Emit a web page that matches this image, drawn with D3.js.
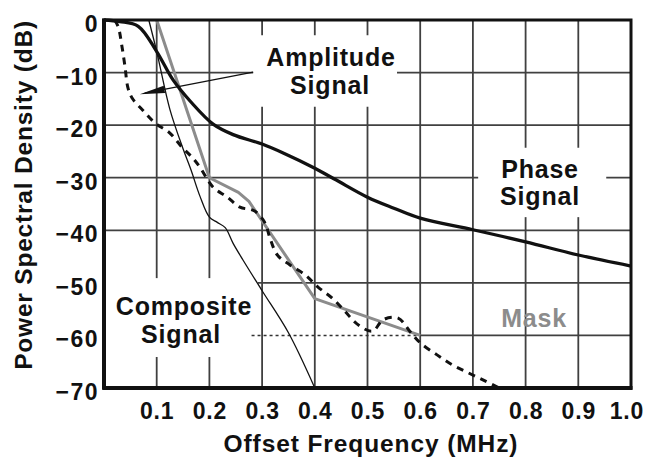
<!DOCTYPE html>
<html><head><meta charset="utf-8">
<script src="https://cdn.jsdelivr.net/npm/d3@7"></script>
<style>
body{margin:0;background:#fff}
svg{display:block}
text{font-family:"Liberation Sans",Arial,Helvetica,sans-serif;font-weight:bold;fill:#111}
</style>
</head><body>
<svg id="chart" width="646" height="458"></svg>
<script>
// ---- data ----
const xTicks = [0.1,0.2,0.3,0.4,0.5,0.6,0.7,0.8,0.9,1.0];
const xTickLabels = ["0.1","0.2","0.3","0.4","0.5","0.6","0.7","0.8","0.9","1.0"];
const yTicks = [0,-10,-20,-30,-40,-50,-60,-70];
const yTickLabels = ["0","\u221210","\u221220","\u221230","\u221240","\u221250","\u221260","\u221270"];

const phaseFreq = [0,0.03,0.065,0.1,0.131,0.165,0.207,0.245,0.3,0.34,0.4,0.44,0.5,0.55,0.6,0.7,0.8,0.9,1.0];
const phaseDb   = [0,-0.3,-1.2,-6,-11.4,-15.6,-19.8,-21.8,-23.6,-25.3,-28.2,-30.4,-33.7,-35.8,-37.7,-39.9,-42.2,-44.7,-46.8];

const amplitudeFreq = [0.02,0.027,0.034,0.04,0.045,0.053,0.074,0.097,0.125,0.148,0.167,0.182,0.207,0.234,0.258,0.285,0.305,0.315,0.329,0.353,0.382,0.406,0.433,0.458,0.48,0.509,0.53,0.558,0.581,0.6,0.632,0.661,0.691,0.72,0.75];
const amplitudeDb   = [0,-1.3,-5,-9,-12.7,-14.8,-17.2,-19.6,-21.5,-24.2,-26.1,-28,-31.8,-33.7,-35.6,-36.3,-38.5,-41.5,-44.7,-46.6,-48.5,-50.8,-52.9,-55.5,-57.8,-59.2,-57,-56.7,-59.3,-61.4,-63.7,-65.6,-67.1,-68.5,-70];

const compositeFreq = [0.085,0.1,0.125,0.15,0.165,0.182,0.2,0.215,0.23,0.245,0.264,0.3,0.35,0.4];
const compositeDb   = [0,-6,-17,-24.5,-28.5,-33.5,-37.5,-38.5,-39.5,-42.5,-45.7,-51.5,-59.5,-70];

const maskFreq = [0.1,0.2,0.255,0.275,0.4,0.6];
const maskDb   = [0,-30,-32.8,-34.5,-53,-60];

const floorFreq = [0.28,0.6];
const floorDb   = [-60,-60];

const arrowFreq = [0.283,0.068];
const arrowDb   = [-9.9,-14.1];

// ---- layout ----
const svg = d3.select("#chart");
const x = d3.scaleLinear().domain([0,1]).range([104,631]);
const y = d3.scaleLinear().domain([-70,0]).range([388,20]);
const gridColor = "#404040";

const zip = (fs, ds) => fs.map((f,i)=>[f, ds[i]]);
const line = d3.line().x(d=>x(d[0])).y(d=>y(d[1]));

// horizontal grid
svg.append("g").selectAll("line").data(yTicks.filter(v=>v<0 && v>-70)).join("line")
  .attr("x1", x(0)).attr("x2", x(1)).attr("y1", d=>y(d)).attr("y2", d=>y(d))
  .attr("stroke", gridColor).attr("stroke-width", 1.8);

// -60 line replaced by dotted mask floor up to 0.6
svg.append("line").attr("x1", x(0)).attr("x2", x(0.6)).attr("y1", y(-60)).attr("y2", y(-60))
  .attr("stroke", "#fff").attr("stroke-width", 4);

// vertical grid
svg.append("g").selectAll("line").data(xTicks.filter(v=>v<1)).join("line")
  .attr("x1", d=>x(d)).attr("x2", d=>x(d)).attr("y1", y(0)).attr("y2", y(-70))
  .attr("stroke", gridColor).attr("stroke-width", 1.8);

// label backgrounds (gaps in grid)
const boxes = [
  {f0:0.283, f1:0.556, d0:-2.9, d1:-16.5},
  {f0:0.710, f1:0.953, d0:-24.3, d1:-37.5},
  {f0:0.0,   f1:0.292, d0:-49.1, d1:-64.1}
];
svg.append("g").selectAll("rect").data(boxes).join("rect")
  .attr("x", d=>x(d.f0)).attr("width", d=>x(d.f1)-x(d.f0))
  .attr("y", d=>y(d.d0)).attr("height", d=>y(d.d1)-y(d.d0))
  .attr("fill", "#fff");

// mask floor dotted
svg.append("path").attr("d", line(zip(floorFreq, floorDb)))
  .attr("fill","none").attr("stroke","#333").attr("stroke-width",1.5).attr("stroke-dasharray","3,3");

// mask
svg.append("path").attr("d", line(zip(maskFreq, maskDb)))
  .attr("fill","none").attr("stroke","#8c8c8c").attr("stroke-width",3).attr("stroke-linejoin","round");

// composite (thin)
svg.append("path").attr("d", line.curve(d3.curveCatmullRom.alpha(0.5))(zip(compositeFreq, compositeDb)))
  .attr("fill","none").attr("stroke","#111").attr("stroke-width",1.3);

// amplitude (dashed)
svg.append("path").attr("d", line.curve(d3.curveCatmullRom.alpha(0.5))(zip(amplitudeFreq, amplitudeDb)))
  .attr("fill","none").attr("stroke","#111").attr("stroke-width",3).attr("stroke-dasharray","7,6");

// phase (thick)
svg.append("path").attr("d", line.curve(d3.curveCatmullRom.alpha(0.5))(zip(phaseFreq, phaseDb)))
  .attr("fill","none").attr("stroke","#111").attr("stroke-width",3.3);

// arrow
{
  const tx = x(arrowFreq[0]), ty = y(arrowDb[0]);
  const hx = x(arrowFreq[1]), hy = y(arrowDb[1]);
  const L = Math.hypot(tx-hx, ty-hy), ux = (tx-hx)/L, uy = (ty-hy)/L;
  const bl = 25, hw = 3.6;
  const bx = hx + ux*bl, by = hy + uy*bl;
  svg.append("line").attr("x1", tx).attr("y1", ty).attr("x2", hx+ux*5).attr("y2", hy+uy*5)
    .attr("stroke","#111").attr("stroke-width",1.3);
  svg.append("path").attr("d", `M${hx},${hy}L${bx - uy*hw},${by + ux*hw}L${bx + uy*hw},${by - ux*hw}Z`)
    .attr("fill","#111");
}

// frame
svg.append("rect").attr("x", x(0)).attr("y", y(0)).attr("width", x(1)-x(0)).attr("height", y(-70)-y(0))
  .attr("fill","none").attr("stroke","#111").attr("stroke-width",3);
svg.append("line").attr("x1", x(0)).attr("x2", x(0)).attr("y1", y(0)-1.5).attr("y2", y(-70)+1.5)
  .attr("stroke","#111").attr("stroke-width",4);
svg.append("line").attr("x1", x(0)-1.5).attr("x2", x(1)+1.5).attr("y1", y(-70)).attr("y2", y(-70))
  .attr("stroke","#111").attr("stroke-width",4);

// tick labels
svg.append("g").selectAll("text").data(xTicks).join("text")
  .attr("x", d=>x(d)+0.5).attr("y", 419).attr("text-anchor","middle").attr("font-size",23)
  .attr("letter-spacing", 0.8)
  .text((d,i)=>xTickLabels[i])
  .each(function(){
    const b = this.getBBox();
    if (b.x + b.width > 644) this.setAttribute("x", +this.getAttribute("x") - (b.x + b.width - 644));
  });
svg.append("g").selectAll("text").data(yTicks).join("text")
  .attr("x", 99).attr("y", d=>y(d)+12).attr("text-anchor","end").attr("font-size",23)
  .attr("letter-spacing", 1.5)
  .text((d,i)=>yTickLabels[i]);

// axis titles
svg.append("text").attr("x", 371).attr("y", 452).attr("text-anchor","middle").attr("font-size",24.5)
  .attr("letter-spacing", 0.9)
  .text("Offset Frequency (MHz)");
svg.append("text").attr("transform","translate(32,195) rotate(-90)").attr("text-anchor","middle").attr("font-size",24.5)
  .attr("letter-spacing", 0.8)
  .text("Power Spectral Density (dB)");

// annotations
const notes = [
  {t:"Amplitude", cx:331, by:66, c:"#111"},
  {t:"Signal", cx:330, by:94, c:"#111"},
  {t:"Phase", cx:540, by:178, c:"#111"},
  {t:"Signal", cx:540, by:205, c:"#111"},
  {t:"Composite", cx:184, by:315, c:"#111"},
  {t:"Signal", cx:181, by:343, c:"#111"},
  {t:"Mask", cx:534, by:327, c:"#8c8c8c"}
];
svg.append("g").selectAll("text").data(notes).join("text")
  .attr("x", d=>d.cx).attr("y", d=>d.by).attr("text-anchor","middle").attr("font-size",25)
  .attr("letter-spacing", 0.8)
  .style("fill", d=>d.c).text(d=>d.t);
</script>
</body></html>
